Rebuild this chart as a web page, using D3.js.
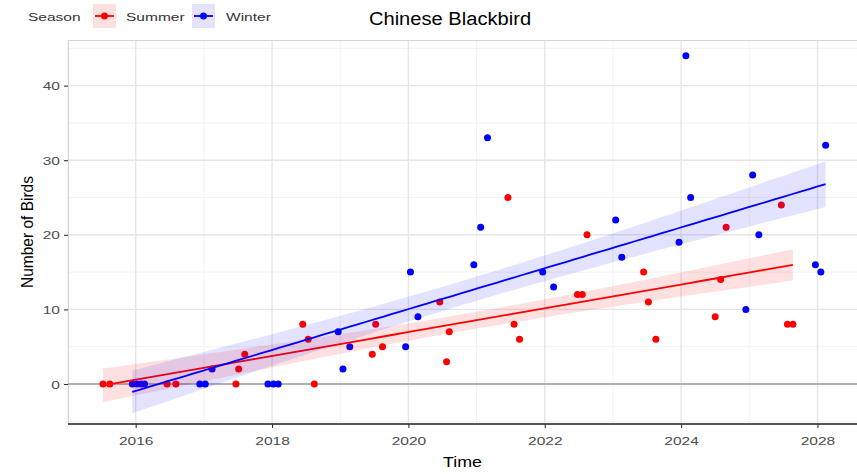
<!DOCTYPE html>
<html>
<head>
<meta charset="utf-8">
<script src="https://cdn.jsdelivr.net/npm/d3@7"></script>
<style>
  html, body { margin: 0; padding: 0; background: #ffffff; }
  svg { display: block; font-family: "Liberation Sans", Arial, Helvetica, sans-serif; }
</style>
</head>
<body>
<svg id="chart" width="857" height="474"></svg>
<script>
// ---------------- DATA ----------------
const title = "Chinese Blackbird";
const xTitle = "Time";
const yTitle = "Number of Birds";
const legendTitle = "Season";
const seasons = ["Summer", "Winter"];

const summerTime = [2015.52, 2015.62, 2016.46, 2016.59, 2017.47, 2017.51, 2017.60,
  2018.45, 2018.53, 2018.62, 2019.47, 2019.52, 2019.62, 2020.46, 2020.56, 2020.60,
  2021.46, 2021.55, 2021.63, 2022.48, 2022.55, 2022.62, 2023.45, 2023.52, 2023.63,
  2024.50, 2024.58, 2024.66, 2025.47, 2025.56, 2025.64];
const summerBirds = [0, 0, 0, 0, 0, 2, 4,
  8, 6, 0, 4, 8, 5, 11, 3, 7,
  25, 8, 6, 12, 12, 20, 15, 11, 6,
  9, 14, 21, 24, 8, 8];

const winterTime = [2015.95, 2016.02, 2016.08, 2016.13, 2016.94, 2017.02, 2017.12,
  2017.94, 2018.02, 2018.09, 2018.97, 2019.04, 2019.14, 2019.96, 2020.03, 2020.14,
  2020.96, 2021.06, 2021.16, 2021.97, 2022.13, 2023.04, 2023.13, 2023.97, 2024.07,
  2024.14, 2024.95, 2025.05, 2025.14, 2025.97, 2026.05, 2026.12];
const winterBirds = [0, 0, 0, 0, 0, 0, 2,
  0, 0, 0, 7, 2, 5, 5, 15, 9,
  16, 21, 33, 15, 13, 22, 17, 19, 44,
  25, 10, 28, 20, 16, 15, 32];

const xTickValues = [2016, 2018, 2020, 2022, 2024, 2026];
const xTickLabels = ["2016", "2018", "2020", "2022", "2024", "2028"];
const xMinorValues = [2015, 2017, 2019, 2021, 2023, 2025];
const yTickValues = [0, 10, 20, 30, 40];
const yMinorValues = [-5, 5, 15, 25, 35, 45];

const colors = { Summer: "#ff0000", Winter: "#0000ff" };
const fills = { Summer: "rgba(255,0,0,0.12)", Winter: "rgba(0,0,255,0.11)" };
const ciLevel = 0.77; // band width as it appears in the reference

// ---------------- LAYOUT ----------------
const panel = { left: 68, right: 857, top: 40, bottom: 424 };
const SX = 1.35; // horizontal stretch of the reference's lettering

const svg = d3.select("#chart");

const x = d3.scaleLinear().domain([2015.007, 2026.58]).range([panel.left, panel.right]);
const y = d3.scaleLinear().domain([-5.36, 46.11]).range([panel.bottom, panel.top]);

function stretchedText(g, px, py, str, opts) {
  return g.append("text")
    .attr("transform", `translate(${px},${py}) scale(${opts.sx || SX},1)`)
    .attr("font-size", opts.size)
    .attr("fill", opts.fill || "#000")
    .attr("text-anchor", opts.anchor || "start")
    .text(str);
}

svg.append("rect").attr("x", panel.left).attr("y", panel.top)
  .attr("width", panel.right - panel.left).attr("height", panel.bottom - panel.top)
  .attr("fill", "#ffffff");

const grid = svg.append("g");
grid.selectAll(".ym").data(yMinorValues).join("line")
  .attr("x1", panel.left).attr("x2", panel.right)
  .attr("y1", d => y(d)).attr("y2", d => y(d))
  .attr("stroke", "#f2f2f2").attr("stroke-width", 1);
grid.selectAll(".xm").data(xMinorValues).join("line")
  .attr("y1", panel.top).attr("y2", panel.bottom)
  .attr("x1", d => x(d)).attr("x2", d => x(d))
  .attr("stroke", "#f2f2f2").attr("stroke-width", 1);
grid.selectAll(".yM").data(yTickValues).join("line")
  .attr("x1", panel.left).attr("x2", panel.right)
  .attr("y1", d => y(d)).attr("y2", d => y(d))
  .attr("stroke", "#e6e6e6").attr("stroke-width", 1.4);
grid.selectAll(".xM").data(xTickValues).join("line")
  .attr("y1", panel.top).attr("y2", panel.bottom)
  .attr("x1", d => x(d)).attr("x2", d => x(d))
  .attr("stroke", "#e6e6e6").attr("stroke-width", 1.4);

svg.append("rect").attr("x", panel.left + 0.5).attr("y", panel.top + 0.5)
  .attr("width", panel.right - panel.left).attr("height", panel.bottom - panel.top)
  .attr("fill", "none").attr("stroke", "#d4d4d4").attr("stroke-width", 1);

svg.append("line").attr("x1", panel.left).attr("x2", panel.right)
  .attr("y1", y(0)).attr("y2", y(0)).attr("stroke", "#777").attr("stroke-width", 1.1);

// ---------------- REGRESSION (linear fit with confidence band) ----------------
function normQuantile(p) {
  // Acklam's inverse normal approximation
  const a = [-39.69683028665376, 220.9460984245205, -275.9285104469687, 138.3577518672690, -30.66479806614716, 2.506628277459239];
  const b = [-54.47609879822406, 161.5858368580409, -155.6989798598866, 66.80131188771972, -13.28068155288572];
  const c = [-0.007784894002430293, -0.3223964580411365, -2.400758277161838, -2.549732539343734, 4.374664141464968, 2.938163982698783];
  const dd = [0.007784695709041462, 0.3224671290700398, 2.445134137142996, 3.754408661907416];
  const pl = 0.02425;
  if (p < pl) {
    const q = Math.sqrt(-2 * Math.log(p));
    return (((((c[0] * q + c[1]) * q + c[2]) * q + c[3]) * q + c[4]) * q + c[5]) / ((((dd[0] * q + dd[1]) * q + dd[2]) * q + dd[3]) * q + 1);
  }
  if (p > 1 - pl) return -normQuantile(1 - p);
  const q = p - 0.5, r = q * q;
  return (((((a[0] * r + a[1]) * r + a[2]) * r + a[3]) * r + a[4]) * r + a[5]) * q / (((((b[0] * r + b[1]) * r + b[2]) * r + b[3]) * r + b[4]) * r + 1);
}
function tQuantile(p, df) {
  const z = normQuantile(p);
  return z + (z ** 3 + z) / (4 * df) + (5 * z ** 5 + 16 * z ** 3 + 3 * z) / (96 * df * df);
}
function lmFit(xs, ys) {
  const n = xs.length;
  const mx = d3.mean(xs), my = d3.mean(ys);
  let sxx = 0, sxy = 0;
  for (let i = 0; i < n; i++) { sxx += (xs[i] - mx) ** 2; sxy += (xs[i] - mx) * (ys[i] - my); }
  const b = sxy / sxx, a = my - b * mx;
  let sse = 0;
  for (let i = 0; i < n; i++) sse += (ys[i] - (a + b * xs[i])) ** 2;
  const s = Math.sqrt(sse / (n - 2));
  const tq = tQuantile(0.5 + ciLevel / 2, n - 2);
  const [lo, hi] = d3.extent(xs);
  return d3.range(0, 81).map(k => {
    const xv = lo + (hi - lo) * k / 80;
    const fit = a + b * xv;
    const se = s * Math.sqrt(1 / n + (xv - mx) ** 2 / sxx);
    return { x: xv, fit, lo: fit - tq * se, hi: fit + tq * se };
  });
}

const series = [
  { name: "Summer", t: summerTime, v: summerBirds },
  { name: "Winter", t: winterTime, v: winterBirds }
];

const area = d3.area().x(d => x(d.x)).y0(d => y(d.lo)).y1(d => y(d.hi));
const line = d3.line().x(d => x(d.x)).y(d => y(d.fit));

svg.append("clipPath").attr("id", "pclip").append("rect")
  .attr("x", panel.left).attr("y", panel.top)
  .attr("width", panel.right - panel.left).attr("height", panel.bottom - panel.top);

const plot = svg.append("g").attr("clip-path", "url(#pclip)");

series.forEach(s => {
  plot.append("g").selectAll("circle").data(s.t.map((t, i) => [t, s.v[i]])).join("circle")
    .attr("cx", d => x(d[0])).attr("cy", d => y(d[1])).attr("r", 3.5)
    .attr("fill", colors[s.name]);
});
series.forEach(s => {
  const fit = lmFit(s.t, s.v);
  plot.append("path").datum(fit).attr("d", area).attr("fill", fills[s.name]);
  plot.append("path").datum(fit).attr("d", line).attr("fill", "none")
    .attr("stroke", colors[s.name]).attr("stroke-width", 1.8);
});

svg.append("line").attr("x1", panel.left).attr("x2", panel.right)
  .attr("y1", panel.bottom).attr("y2", panel.bottom)
  .attr("stroke", "#555").attr("stroke-width", 2);

// ---------------- AXES ----------------
const xAxis = d3.axisBottom(x).tickValues(xTickValues).tickSize(4)
  .tickFormat((d, i) => xTickLabels[i]);
const gx = svg.append("g").attr("transform", `translate(0,${panel.bottom})`).call(xAxis);
gx.select(".domain").remove();
gx.selectAll(".tick line").attr("stroke", "#333").attr("stroke-width", 1.1);
gx.selectAll(".tick text").remove();
gx.selectAll(".tick").each(function (d, i) {
  stretchedText(d3.select(this), 0, 21, xTickLabels[i], { size: 11.5, fill: "#4d4d4d", anchor: "middle" });
});

const yAxis = d3.axisLeft(y).tickValues(yTickValues).tickSize(4);
const gy = svg.append("g").attr("transform", `translate(${panel.left},0)`).call(yAxis);
gy.select(".domain").remove();
gy.selectAll(".tick line").attr("stroke", "#333").attr("stroke-width", 1.1);
gy.selectAll(".tick text").remove();
gy.selectAll(".tick").each(function (d) {
  stretchedText(d3.select(this), -8, 4, String(d), { size: 11.5, fill: "#4d4d4d", anchor: "end" });
});

stretchedText(svg, (panel.left + panel.right) / 2, 467, xTitle, { size: 15.5, anchor: "middle", sx: 1.15 });
svg.append("text")
  .attr("transform", `translate(33,${(panel.top + panel.bottom) / 2}) rotate(-90) scale(1,1.1)`)
  .attr("font-size", 15.5).attr("text-anchor", "middle").attr("fill", "#000")
  .text(yTitle);

stretchedText(svg, 450, 25, title, { size: 19, anchor: "middle", sx: 1.06 });

// ---------------- LEGEND ----------------
const leg = svg.append("g");
stretchedText(leg, 28, 21, legendTitle, { size: 11.5, fill: "#333" });
const keyX = [93, 192];
const labX = [126, 226];
seasons.forEach((s, i) => {
  const kg = leg.append("g").attr("transform", `translate(${keyX[i]},4)`);
  kg.append("rect").attr("width", 23).attr("height", 24).attr("fill", fills[s]);
  kg.append("line").attr("x1", 2).attr("x2", 21).attr("y1", 12).attr("y2", 12)
    .attr("stroke", colors[s]).attr("stroke-width", 1.8);
  kg.append("circle").attr("cx", 11.5).attr("cy", 12).attr("r", 3.5).attr("fill", colors[s]);
  stretchedText(leg, labX[i], 21, s, { size: 11.5, fill: "#333" });
});
</script>
</body>
</html>
